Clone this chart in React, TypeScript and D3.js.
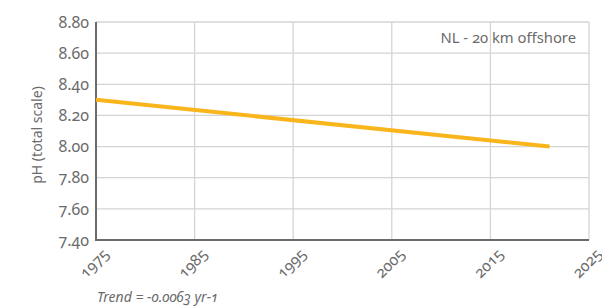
import React from "react";
import * as d3 from "d3";

const years = [1975, 2021];
const phValues = [8.3, 8.0];
const yTicks = [7.4, 7.6, 7.8, 8.0, 8.2, 8.4, 8.6, 8.8];
const xTicks = [1975, 1985, 1995, 2005, 2015, 2025];
const stationLabel = "NL - 20 km offshore";
const trendLabel = "Trend = -0.0063 yr-1";
const yAxisLabel = "pH (total scale)";

const W = 602;
const H = 308;
const M = { left: 96, right: 589, top: 22, bottom: 240 };
const FONT = "'Noto Sans', 'Open Sans', sans-serif";
const TXT = "#6b6b6b";
const ONUM = { fontVariantNumeric: "oldstyle-nums" as const };

export default function App() {
  const x = d3.scaleLinear().domain([1975, 2025]).range([M.left, M.right]);
  const y = d3.scaleLinear().domain([7.4, 8.8]).range([M.bottom, M.top]);
  const line = d3
    .line<number>()
    .x((_, i) => x(years[i]))
    .y((d) => y(d));

  return (
    <svg
      width={W}
      height={H}
      style={{ position: "absolute", left: 0, top: 0, background: "#fff" }}
      fontFamily={FONT}
    >
      {yTicks.slice(1).map((t) => (
        <line key={"gy" + t} x1={M.left} x2={M.right} y1={y(t)} y2={y(t)} stroke="#d4d4d4" strokeWidth={1.3} />
      ))}
      {xTicks.slice(1).map((t) => (
        <line key={"gx" + t} x1={x(t)} x2={x(t)} y1={M.top} y2={M.bottom} stroke="#d4d4d4" strokeWidth={1.3} />
      ))}
      <line x1={M.left} x2={M.left} y1={M.top} y2={M.bottom + 1} stroke="#6b6b6b" strokeWidth={2} />
      <line x1={M.left - 1} x2={M.right} y1={M.bottom} y2={M.bottom} stroke="#6b6b6b" strokeWidth={2} />
      {yTicks.map((t) => (
        <text
          key={"ty" + t}
          x={M.left - 7}
          y={y(t)}
          dy="0.36em"
          textAnchor="end"
          fontSize={16}
          fill={TXT}
          style={ONUM}
        >
          {t.toFixed(2)}
        </text>
      ))}
      {xTicks.map((t) => (
        <text
          key={"tx" + t}
          transform={`translate(${x(t) + 14},${M.bottom + 15}) rotate(-45)`}
          textAnchor="end"
          fontSize={15.5}
          fill={TXT}
          style={ONUM}
        >
          {t}
        </text>
      ))}
      <path d={line(phValues) || ""} fill="none" stroke="#f9b51c" strokeWidth={4} strokeLinecap="butt" />
      <text x={576} y={43} textAnchor="end" fontSize={14.8} fill={TXT} style={ONUM}>
        {stationLabel}
      </text>
      <text
        transform={`translate(42,135) rotate(-90)`}
        textAnchor="middle"
        fontSize={14}
        fill={TXT}
      >
        {yAxisLabel}
      </text>
      <text x={97} y={302} fontSize={14} fontStyle="italic" fill={TXT} style={ONUM}>
        {trendLabel}
      </text>
    </svg>
  );
}
